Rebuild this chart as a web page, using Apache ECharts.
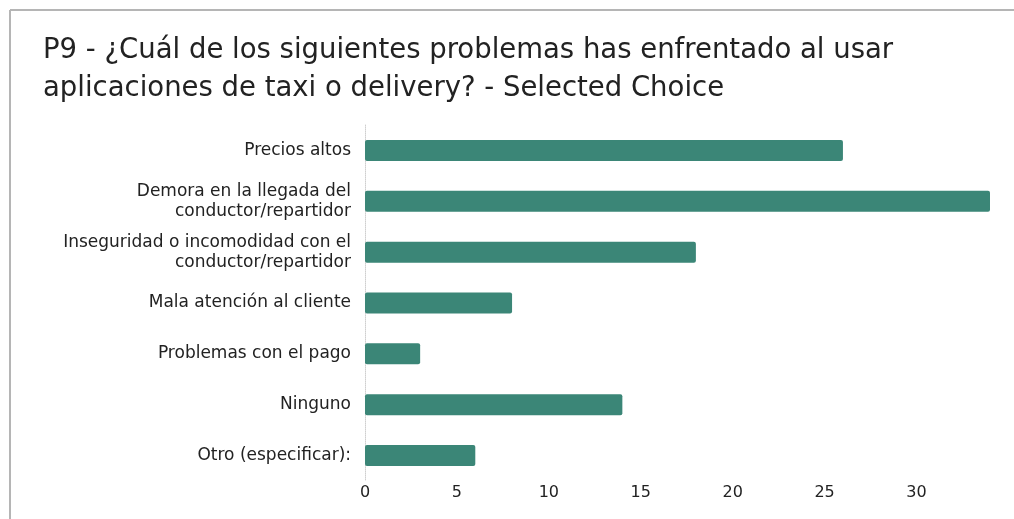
<!DOCTYPE html>
<html>
<head>
<meta charset="utf-8">
<script src="https://cdn.jsdelivr.net/npm/echarts@6/dist/echarts.min.js"></script>
<style>
html,body{margin:0;padding:0;background:#fff;}
#c{width:1014px;height:519px;}
</style>
</head>
<body>
<div id="c"></div>
<script>
const categories = [
  "Precios altos",
  "Demora en la llegada del\nconductor/repartidor",
  "Inseguridad o incomodidad con el\nconductor/repartidor",
  "Mala atención al cliente",
  "Problemas con el pago",
  "Ninguno",
  "Otro (especificar):"
];
const values = [26, 34, 18, 8, 3, 14, 6];
const titleText = "P9 - ¿Cuál de los siguientes problemas has enfrentado al usar\naplicaciones de taxi o delivery? - Selected Choice";

const FONT = '"DejaVu Sans", "Liberation Sans", Arial, sans-serif';
const chart = echarts.init(document.getElementById('c'), null, {renderer: 'canvas'});
chart.setOption({
  animation: false,
  backgroundColor: '#ffffff',
  textStyle: {fontFamily: FONT},
  title: {
    text: titleText,
    left: 38,
    top: 27,
    textStyle: {fontSize: 27.5, fontWeight: 'normal', color: '#222', lineHeight: 38, fontFamily: FONT}
  },
  graphic: [
    {type: 'line', shape: {x1: 10, y1: 10, x2: 1014, y2: 10}, style: {stroke: '#b5b5b5', lineWidth: 2}},
    {type: 'line', shape: {x1: 10, y1: 10, x2: 10, y2: 519}, style: {stroke: '#b5b5b5', lineWidth: 2}}
  ],
  grid: {left: 365, right: 24, top: 125, bottom: 38, containLabel: false},
  xAxis: {
    type: 'value',
    min: 0,
    max: 34,
    interval: 5,
    axisLine: {show: false},
    axisTick: {show: false},
    splitLine: {show: false},
    axisLabel: {color: '#222', fontSize: 16, margin: 4, showMaxLabel: false, fontFamily: FONT}
  },
  yAxis: {
    type: 'category',
    inverse: true,
    data: categories,
    axisLine: {show: true, lineStyle: {color: '#cfcfcf', type: 'dotted', width: 1}},
    axisTick: {show: false},
    axisLabel: {color: '#222', fontSize: 17, margin: 14, lineHeight: 20, align: 'right', fontFamily: FONT}
  },
  series: [{
    type: 'bar',
    data: values,
    barWidth: 21,
    itemStyle: {color: '#3b8677', borderRadius: 2}
  }]
});
</script>
</body>
</html>
